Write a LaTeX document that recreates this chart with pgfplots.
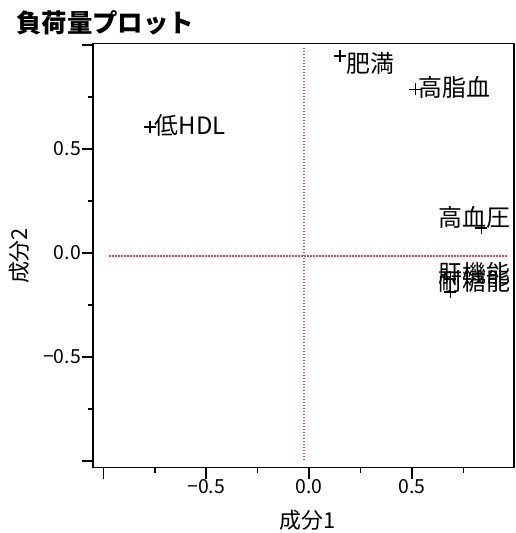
\documentclass[border=0pt]{standalone}
\usepackage{fontspec}
\setmainfont{Noto Sans CJK JP}
\usepackage{pgfplots}
\pgfplotsset{compat=1.18}
\definecolor{refred}{RGB}{235,60,90}
\begin{document}
\begin{tikzpicture}
\path[use as bounding box] (0,0) rectangle (516bp,533bp);
\begin{axis}[
  scale only axis, width=421bp, height=424bp,
  at={(93bp,65.5bp)}, anchor=south west,
  xmin=-1.05, xmax=0.995, ymin=-1.031, ymax=1.007,
  xtick={-1,-0.5,0,0.5}, xticklabels={{},−0.5,0.0,0.5},
  minor xtick={-0.75,-0.25,0.25,0.75},
  ytick={-1,-0.5,0,0.5,1}, yticklabels={{},−0.5,0.0,0.5,{}},
  minor ytick={-0.75,-0.25,0.25,0.75},
  tick align=outside, xtick pos=bottom, ytick pos=left,
  major tick length=11bp, minor tick length=5bp,
  every tick/.style={black, line width=1.5bp},
  axis line style={line width=1.5bp},
  ticklabel style={font=\fontsize{19.5}{20}\selectfont},
  xticklabel style={inner sep=1bp},
  yticklabel style={inner sep=1bp},
  xlabel={成分1}, ylabel={成分2},
  xlabel style={font=\fontsize{22}{24}\selectfont, at={(axis description cs:0.509,-0.124)}, anchor=center},
  ylabel style={font=\fontsize{22}{24}\selectfont, at={(axis description cs:-0.174,0.499)}, anchor=center, rotate=0},
  title={\bfseries 負荷量プロット},
  title style={font=\fontsize{25.5}{27}\selectfont, at={(axis description cs:-0.1825,1.034)}, anchor=west, inner sep=0pt},
  clip=true,
]
\addplot[refred, line width=1.5bp, dash pattern=on 1.5bp off 1.5bp] coordinates {(-0.024,-0.995) (-0.024,0.99)};
\addplot[refred, line width=1.5bp, dash pattern=on 1.5bp off 1.5bp] coordinates {(-0.97,-0.014) (0.96,-0.014)};
\addplot[only marks, mark=+, mark size=6bp, black, mark options={line width=1.5bp}] coordinates {
  (-0.774,0.606) (0.149,0.947) (0.516,0.787) (0.836,0.120) (0.686,-0.125) (0.686,-0.188)
};
\begin{scope}[every node/.style={font=\fontsize{24}{26}\selectfont, inner sep=0pt, anchor=west}]
\node at (axis cs:-0.750,0.611) {低HDL};
\node at (axis cs:0.179,0.913) {肥満};
\node at (axis cs:0.532,0.796) {高脂血};
\node at (axis cs:0.629,0.173) {高血圧};
\node at (axis cs:0.629,-0.096) {肝機能};
\node at (axis cs:0.629,-0.135) {耐糖能};
\end{scope}
\end{axis}
\end{tikzpicture}
\end{document}
